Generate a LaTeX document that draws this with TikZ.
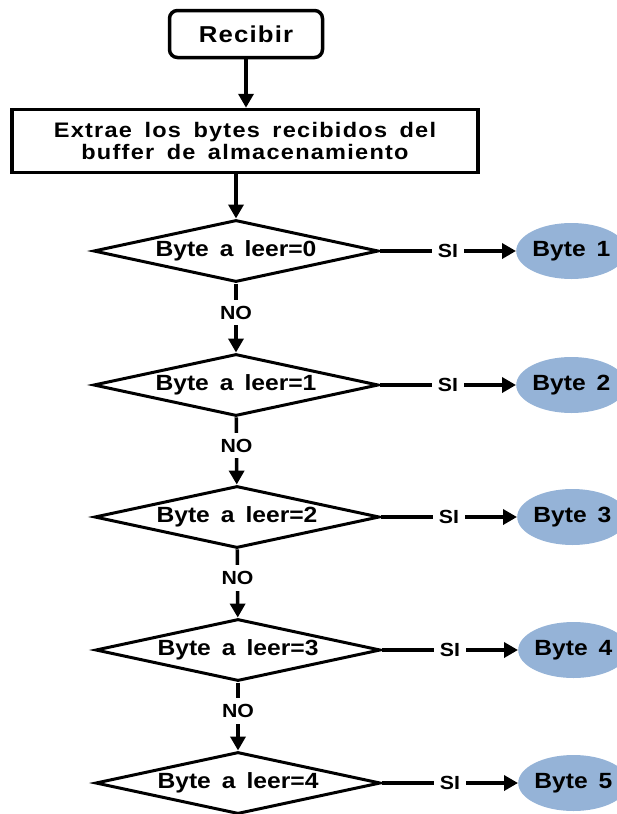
\documentclass[tikz,border=0pt]{standalone}
\usepackage{fontspec}
\setmainfont{Liberation Sans}[FakeStretch=1.12, WordSpace=1.6]
\usetikzlibrary{positioning, shapes, arrows.meta}
\definecolor{bytefill}{RGB}{149,179,215}

\begin{document}
\begin{tikzpicture}[x=1pt, y=1pt,
      node distance=136pt,
      ini/.style={rectangle, rounded corners=8pt, draw, line width=3.5pt, minimum width=153pt, minimum height=47pt, font=\bfseries\fontsize{23}{26}\selectfont\addfontfeatures{LetterSpace=5}},
      proc/.style={rectangle, draw, line width=3.5pt, minimum width=466pt, minimum height=63pt, align=center, font=\bfseries\fontsize{21}{22}\selectfont\addfontfeatures{LetterSpace=6}},
      dec/.style={diamond, draw, line width=3pt, aspect=4.6, minimum width=285pt, minimum height=62pt, inner sep=0pt, font=\bfseries\fontsize{22}{26}\selectfont},
      res/.style={ellipse, fill=bytefill, minimum width=110pt, minimum height=56pt, inner sep=0pt, font=\bfseries\fontsize{22}{26}\selectfont},
      lbl/.style={fill=white, inner sep=6pt, font=\bfseries\fontsize{19}{22}\selectfont},
      arr/.style={line width=3.5pt, -{Triangle[width=15pt, length=14pt]}}]
    \useasboundingbox (0,0) rectangle (616,-814);
    \node[ini] (recibir) at (246,-34) {Recibir};
    \node[proc] (extrae) at (245,-141) {Extrae los bytes recibidos del\\buffer de almacenamiento};
    \node[dec] (d0) at (236,-251) {Byte a leer=0};
    \node[dec] (d1) at (236,-385) {Byte a leer=1};
    \node[dec] (d2) at (237,-517) {Byte a leer=2};
    \node[dec] (d3) at (238,-650) {Byte a leer=3};
    \node[dec] (d4) at (238,-783) {Byte a leer=4};
    \node[res] (b1) [right=of d0] {Byte 1};
    \node[res] (b2) [right=of d1] {Byte 2};
    \node[res] (b3) [right=of d2] {Byte 3};
    \node[res] (b4) [right=of d3] {Byte 4};
    \node[res] (b5) [right=of d4] {Byte 5};
    \draw[arr] (recibir) -- (recibir |- extrae.north);
    \draw[arr] (extrae.south -| d0) -- (d0);
    \draw[arr] (d0) -- (d1) node [lbl, pos=0.42] {NO};
    \draw[arr] (d1) -- (d2) node [lbl, pos=0.42] {NO};
    \draw[arr] (d2) -- (d3) node [lbl, pos=0.42] {NO};
    \draw[arr] (d3) -- (d4) node [lbl, pos=0.42] {NO};
    \draw[arr] (d0) -- (b1) node [lbl, midway] {SI};
    \draw[arr] (d1) -- (b2) node [lbl, midway] {SI};
    \draw[arr] (d2) -- (b3) node [lbl, midway] {SI};
    \draw[arr] (d3) -- (b4) node [lbl, midway] {SI};
    \draw[arr] (d4) -- (b5) node [lbl, midway] {SI};
\end{tikzpicture}
\end{document}
